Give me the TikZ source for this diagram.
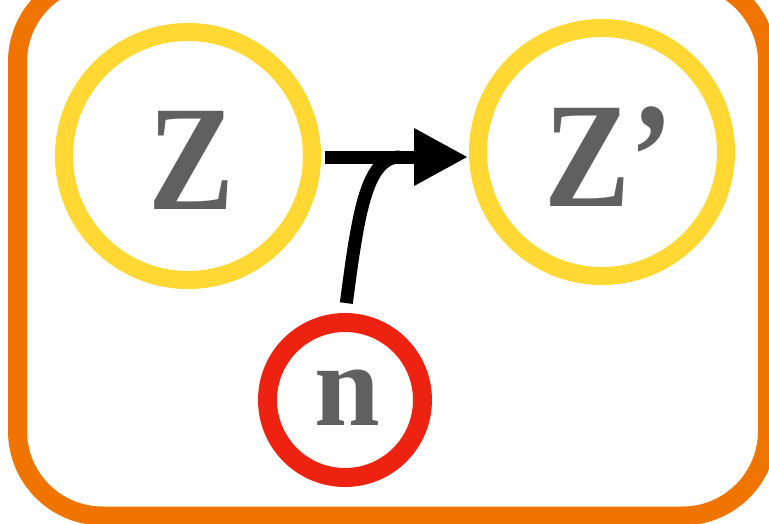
\documentclass[tikz,border=0pt]{standalone}
\usepackage{fontspec}
\setmainfont{Liberation Serif}
\usetikzlibrary{arrows.meta}
\definecolor{ringyellow}{HTML}{FFD833}
\definecolor{ringred}{HTML}{EE2211}
\definecolor{frameorange}{HTML}{F07400}
\definecolor{labelgray}{HTML}{606060}
\tikzset{
  ring/.style={circle, draw=ringyellow, line width=18pt, minimum size=248pt, inner sep=0pt},
  noisering/.style={circle, draw=ringred, line width=19pt, minimum size=155pt, inner sep=0pt},
  biglabel/.style={text=labelgray, inner sep=0pt, font=\fontsize{150}{150}\selectfont\bfseries},
  smalllabel/.style={text=labelgray, inner sep=0pt, font=\fontsize{118}{118}\selectfont\bfseries},
  link/.style={line width=13pt},
}
\begin{document}
\begin{tikzpicture}[x=1pt,y=-1pt]
\useasboundingbox (0,0) rectangle (769,523);
\draw[frameorange, line width=19pt, rounded corners=85pt] (17.5,-23) rectangle (767.5,516);
\node[ring] (Z) at (188,156) {};
\node[ring] (Zp) at (602,152) {};
\node[noisering] (n) at (345,400) {};
\node[biglabel] (tZ) at (192,160) {\scalebox{0.86}[1]{Z}};
\node[biglabel] (tZp) at (609,157) {\scalebox{0.86}[1]{Z’}};
\node[smalllabel] (tn) at (347,398) {n};
\coordinate (join) at (400,157);
\draw[link, -{Triangle[length=54pt,width=54pt]}, shorten <=4pt, shorten >=1pt] (Z.east |- join) -- (Zp.west |- join);
\draw[link, shorten <=10pt] (n.north) .. controls (358,215) and (366,157) .. (join);
\end{tikzpicture}
\end{document}
